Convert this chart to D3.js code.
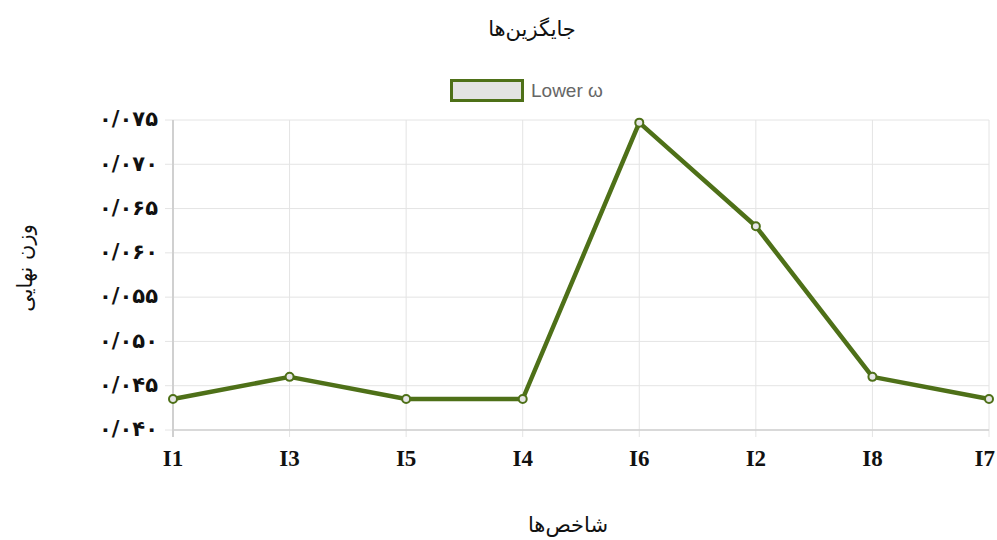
<html>
<head>
    <meta charset="utf-8">
    <title>جایگزین‌ها</title>
    <script src="https://d3js.org/d3.v7.min.js"></script>
    <style>
        body { margin: 0; background: #fff; }
    </style>
</head>
<body>
    <div id="myPlot"></div>
    <script>
        // data
        var categories = ["I1", "I3", "I5", "I4", "I6", "I2", "I8", "I7"];
        var lowerOmega = [0.0435, 0.046, 0.0435, 0.0435, 0.0747, 0.063, 0.046, 0.0435];
        var yTicks = [0.040, 0.045, 0.050, 0.055, 0.060, 0.065, 0.070, 0.075];

        var seriesName = "Lower ω";
        var titleText = "جایگزین‌ها";
        var xTitle = "شاخص‌ها";
        var yTitle = "وزن نهایی";

        var lineColor = "#4e7018";
        var persianFont = "'DejaVu Sans', 'Noto Sans', sans-serif";

        var svg = d3.select("#myPlot").append("svg")
            .attr("width", 997)
            .attr("height", 540);

        var xScale = d3.scalePoint()
            .domain(categories)
            .range([173, 989]);

        var yScale = d3.scaleLinear()
            .domain([0.040, 0.075])
            .range([430, 120]);

        // persian digits, "/" as decimal separator
        var faDigits = "۰۱۲۳۴۵۶۷۸۹";
        function toPersian(v) {
            return d3.format(".3f")(v).replace(".", "/").replace(/[0-9]/g, function (c) {
                return faDigits[+c];
            });
        }

        // horizontal grid lines
        svg.append("g")
            .selectAll("line")
            .data(yTicks)
            .enter()
            .append("line")
            .attr("x1", 165)
            .attr("x2", 989)
            .attr("y1", function (d) { return yScale(d); })
            .attr("y2", function (d) { return yScale(d); })
            .attr("stroke", "#e4e4e4")
            .attr("stroke-width", 1);

        // vertical grid lines
        svg.append("g")
            .selectAll("line")
            .data(categories)
            .enter()
            .append("line")
            .attr("x1", function (d) { return xScale(d); })
            .attr("x2", function (d) { return xScale(d); })
            .attr("y1", 120)
            .attr("y2", 437)
            .attr("stroke", function (d, i) { return i === 0 ? "#d0d0d0" : "#e4e4e4"; })
            .attr("stroke-width", function (d, i) { return i === 0 ? 2 : 1; });

        // x axis line
        svg.append("line")
            .attr("x1", 173).attr("x2", 989)
            .attr("y1", 430).attr("y2", 430)
            .attr("stroke", "#d0d0d0")
            .attr("stroke-width", 1.5);

        // y tick labels
        svg.append("g")
            .selectAll("text")
            .data(yTicks)
            .enter()
            .append("text")
            .attr("x", 158)
            .attr("y", function (d) { return yScale(d); })
            .attr("dy", "0.3em")
            .attr("text-anchor", "end")
            .attr("direction", "ltr")
            .style("font-family", persianFont)
            .style("font-weight", "bold")
            .style("font-size", "21px")
            .style("fill", "#111")
            .text(function (d) { return toPersian(d); });

        // x tick labels (kept inside the canvas, like the original)
        svg.append("g")
            .selectAll("text")
            .data(categories)
            .enter()
            .append("text")
            .attr("x", function (d) { return xScale(d); })
            .attr("y", 466)
            .attr("text-anchor", "middle")
            .style("font-family", "'Liberation Serif', serif")
            .style("font-weight", "bold")
            .style("font-size", "23px")
            .style("fill", "#111")
            .text(function (d) { return d; })
            .each(function (d) {
                var w = this.getComputedTextLength();
                var x = Math.min(xScale(d), 995 - w / 2);
                d3.select(this).attr("x", x);
            });

        // the line
        var line = d3.line()
            .x(function (d, i) { return xScale(categories[i]); })
            .y(function (d) { return yScale(d); });

        svg.append("path")
            .datum(lowerOmega)
            .attr("d", line)
            .attr("fill", "none")
            .attr("stroke", lineColor)
            .attr("stroke-width", 4.5)
            .attr("stroke-linejoin", "round");

        svg.append("g")
            .selectAll("circle")
            .data(lowerOmega)
            .enter()
            .append("circle")
            .attr("cx", function (d, i) { return xScale(categories[i]); })
            .attr("cy", function (d) { return yScale(d); })
            .attr("r", 4)
            .attr("fill", "#e6e6e6")
            .attr("stroke", lineColor)
            .attr("stroke-width", 2);

        // title
        svg.append("text")
            .attr("x", 532)
            .attr("y", 36)
            .attr("text-anchor", "middle")
            .style("font-family", persianFont)
            .style("font-size", "21px")
            .style("fill", "#111")
            .text(titleText);

        // legend
        svg.append("rect")
            .attr("x", 451.5)
            .attr("y", 80.5)
            .attr("width", 71)
            .attr("height", 20)
            .attr("fill", "#e3e3e3")
            .attr("stroke", lineColor)
            .attr("stroke-width", 3);

        svg.append("text")
            .attr("x", 531)
            .attr("y", 97)
            .style("font-family", "'Liberation Sans', Arial, sans-serif")
            .style("font-size", "19px")
            .style("fill", "#666")
            .text(seriesName);

        // axis titles
        svg.append("text")
            .attr("transform", "translate(32,268) rotate(-90)")
            .attr("text-anchor", "middle")
            .style("font-family", persianFont)
            .style("font-size", "21px")
            .style("fill", "#111")
            .text(yTitle);

        svg.append("text")
            .attr("x", 568)
            .attr("y", 532)
            .attr("text-anchor", "middle")
            .style("font-family", persianFont)
            .style("font-size", "21px")
            .style("fill", "#111")
            .text(xTitle);
    </script>
</body>
</html>
